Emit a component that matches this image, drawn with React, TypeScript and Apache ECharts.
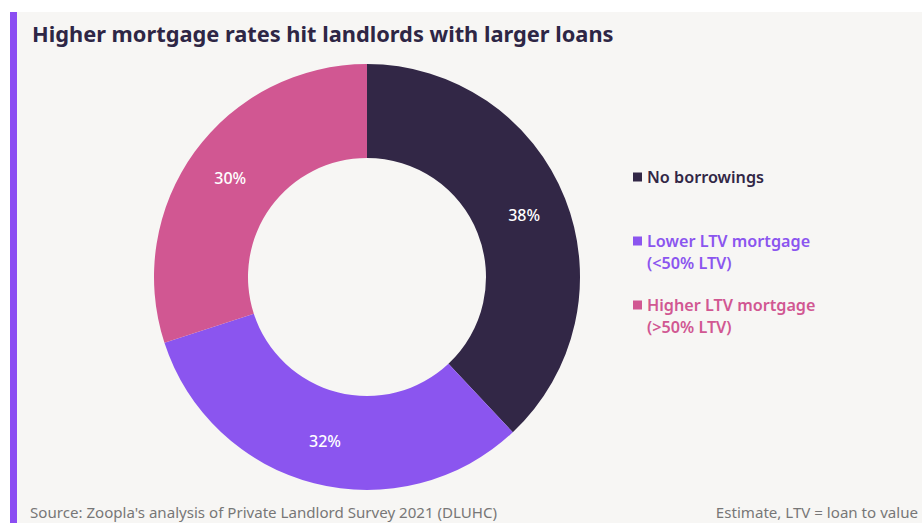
import React, { useEffect, useRef } from "react";
import * as echarts from "echarts";

const categories = ["No borrowings", "Lower LTV mortgage\n(<50% LTV)", "Higher LTV mortgage\n(>50% LTV)"];
const values = [38, 32, 30];
const colors = ["#322746", "#8b55ef", "#d15792"];
const titleText = "Higher mortgage rates hit landlords with larger loans";
const sourceText = "Source: Zoopla's analysis of Private Landlord Survey 2021 (DLUHC)";
const noteText = "Estimate, LTV = loan to value";

const FONT = "'Noto Sans', sans-serif";
const legendCenters = [177, 241, 305];

export default function App() {
  const ref = useRef<HTMLDivElement>(null);
  useEffect(() => {
    if (!ref.current) return;
    const chart = echarts.init(ref.current, null, { renderer: "svg" });
    const legendEls: any[] = [];
    categories.forEach((c, i) => {
      legendEls.push({
        type: "rect",
        z: 10,
        shape: { x: 633, y: legendCenters[i] - 4.5, width: 9, height: 9 },
        style: { fill: colors[i] },
      });
      c.split("\n").forEach((line, j) => {
        legendEls.push({
          type: "text",
          z: 10,
          x: 647,
          y: legendCenters[i] + j * 22,
          style: {
            text: line,
            fill: colors[i],
            font: `600 16.2px ${FONT}`,
            textVerticalAlign: "middle",
          },
        });
      });
    });
    chart.setOption({
      animation: false,
      backgroundColor: "#ffffff",
      graphic: [
        { type: "rect", z: -10, shape: { x: 10, y: 12, width: 912, height: 511 }, style: { fill: "#f7f6f4" } },
        { type: "rect", z: -9, shape: { x: 10, y: 12, width: 7, height: 511 }, style: { fill: "#8b4df2" } },
        {
          type: "text",
          z: 10,
          x: 32,
          y: 33,
          style: { text: titleText, fill: "#2e2645", font: `700 21.8px ${FONT}`, textVerticalAlign: "middle" },
        },
        {
          type: "text",
          z: 10,
          x: 30,
          y: 512,
          style: { text: sourceText, fill: "#777777", font: `400 15.1px ${FONT}`, textVerticalAlign: "middle" },
        },
        {
          type: "text",
          z: 10,
          x: 918,
          y: 512,
          style: { text: noteText, fill: "#777777", font: `400 15.1px ${FONT}`, textVerticalAlign: "middle", textAlign: "right" },
        },
        ...legendEls,
      ],
      series: [
        {
          type: "pie",
          center: [367, 277],
          radius: [119, 213],
          startAngle: 90,
          clockwise: true,
          avoidLabelOverlap: false,
          label: {
            show: true,
            position: "inside",
            formatter: "{c}%",
            color: "#ffffff",
            fontSize: 16,
            fontFamily: FONT,
            fontWeight: 500,
          },
          labelLine: { show: false },
          emphasis: { disabled: true },
          itemStyle: { borderWidth: 0 },
          data: categories.map((c, i) => ({ name: c, value: values[i], itemStyle: { color: colors[i] } })),
        },
      ],
    });
    return () => chart.dispose();
  }, []);
  return <div ref={ref} style={{ position: "fixed", left: 0, top: 0, width: 922, height: 523 }} />;
}
